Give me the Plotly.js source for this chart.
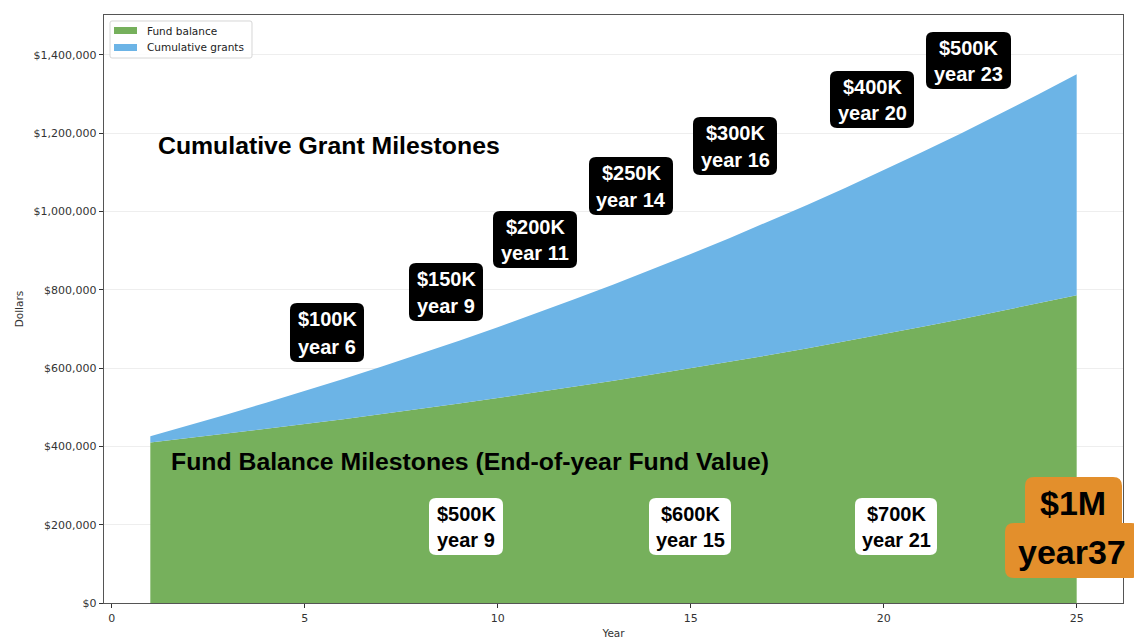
<!DOCTYPE html>
<html>
<head>
<meta charset="utf-8">
<script src="https://cdn.plot.ly/plotly-3.0.1.min.js"></script>
<style>html,body{margin:0;padding:0;background:#fff;}#chart{width:1134px;height:643px;}</style>
</head>
<body>
<div id="chart"></div>
<script>
// ---- data ----
const years = [1,2,3,4,5,6,7,8,9,10,11,12,13,14,15,16,17,18,19,20,21,22,23,24,25];
const fundBalance = [410000,421300,432900,444800,457000,469600,482500,495700,509400,523400,537800,552600,567800,583400,599400,615900,632800,650200,668100,686500,705400,724800,744700,765200,786200];
const cumulativeGrants = [16000,32400,49300,66700,84500,102800,121600,140900,160800,181200,202200,223800,245900,268700,292000,316100,340700,366100,392200,418900,446400,474700,503800,533600,564300];
const seriesNames = ['Fund balance','Cumulative grants'];

const grantMilestoneLabels = ['$100K','$150K','$200K','$250K','$300K','$400K','$500K'];
const grantMilestoneYears = [6,9,11,14,16,20,23];
const fundMilestoneLabels = ['$500K','$600K','$700K'];
const fundMilestoneYears = [9,15,21];
const bigMilestoneLabel = '$1M';
const bigMilestoneYear = 37;
const yTicks = [0,200000,400000,600000,800000,1000000,1200000,1400000];
const yTickText = ['$0','$200,000','$400,000','$600,000','$800,000','$1,000,000','$1,200,000','$1,400,000'];
const xTicks = [0,5,10,15,20,25];

// ---- layout helpers: pixel geometry of the reference ----
const L = 104, R = 1123, T = 15, B = 603;
const px = x => (x - L) / (R - L);
const py = y => (B - y) / (B - T);
function rr(x0, y0, x1, y1, r) {
  const X = v => px(v).toFixed(5), Y = v => py(v).toFixed(5);
  return 'M' + X(x0 + r) + ',' + Y(y0) + ' L' + X(x1 - r) + ',' + Y(y0) +
    ' Q' + X(x1) + ',' + Y(y0) + ' ' + X(x1) + ',' + Y(y0 + r) +
    ' L' + X(x1) + ',' + Y(y1 - r) +
    ' Q' + X(x1) + ',' + Y(y1) + ' ' + X(x1 - r) + ',' + Y(y1) +
    ' L' + X(x0 + r) + ',' + Y(y1) +
    ' Q' + X(x0) + ',' + Y(y1) + ' ' + X(x0) + ',' + Y(y1 - r) +
    ' L' + X(x0) + ',' + Y(y0 + r) +
    ' Q' + X(x0) + ',' + Y(y0) + ' ' + X(x0 + r) + ',' + Y(y0) + ' Z';
}

// box rectangles [x0, x1, y0, y1] in pixels
const grantBoxes = [[290,364,303,362],[409,483,263,321],[493,577,211,268],[589,673,157,215],[693,777,117,175],[830,914,71,128],[926,1011,32,89]];
const fundBoxes = [[429,503,498,555],[649,731,498,555],[855,937,498,555]];

const FAM = 'Liberation Sans, Arial, sans-serif';
const shapes = [];
const annotations = [];
function addBox(b, line1, line2, bg, fg) {
  shapes.push({type:'path', xref:'paper', yref:'paper', path:rr(b[0], b[2], b[1], b[3], 7),
    fillcolor:bg, line:{width:0}, layer:'above'});
  const cx = px((b[0] + b[1]) / 2);
  annotations.push({xref:'paper', yref:'paper', x:cx, y:py(b[2] + 16), xanchor:'center', yanchor:'middle',
    showarrow:false, text:'<b>' + line1 + '</b>', font:{family:FAM, size:20, color:fg}});
  annotations.push({xref:'paper', yref:'paper', x:cx, y:py(b[3] - 15), xanchor:'center', yanchor:'middle',
    showarrow:false, text:'<b>' + line2 + '</b>', font:{family:FAM, size:20, color:fg}});
}
grantMilestoneLabels.forEach((lab, i) => addBox(grantBoxes[i], lab, 'year ' + grantMilestoneYears[i], '#000', '#fff'));
fundMilestoneLabels.forEach((lab, i) => addBox(fundBoxes[i], lab, 'year ' + fundMilestoneYears[i], '#fff', '#000'));

// big $1M milestone (two merged orange boxes)
const ORANGE = '#E38F2C';
shapes.push({type:'path', xref:'paper', yref:'paper', path:rr(1025, 477, 1122, 532, 9), fillcolor:ORANGE, line:{width:0}, layer:'above'});
shapes.push({type:'path', xref:'paper', yref:'paper', path:rr(1005, 523, 1140, 578, 9), fillcolor:ORANGE, line:{width:0}, layer:'above'});
annotations.push({xref:'paper', yref:'paper', x:px(1073), y:py(503), xanchor:'center', yanchor:'middle', showarrow:false,
  text:'<b>' + bigMilestoneLabel + '</b>', font:{family:FAM, size:34, color:'#000'}});
annotations.push({xref:'paper', yref:'paper', x:px(1072), y:py(552), xanchor:'center', yanchor:'middle', showarrow:false,
  text:'<b>year' + bigMilestoneYear + '</b>', font:{family:FAM, size:34, color:'#000'}});

// section titles
annotations.push({xref:'paper', yref:'paper', x:px(156), y:py(146), xanchor:'left', yanchor:'middle', showarrow:false,
  text:'<b>Cumulative Grant Milestones</b>', font:{family:FAM, size:24.8, color:'#000'}});
annotations.push({xref:'paper', yref:'paper', x:px(169), y:py(461), xanchor:'left', yanchor:'middle', showarrow:false,
  text:'<b>Fund Balance Milestones (End-of-year Fund Value)</b>', font:{family:FAM, size:24.8, color:'#000'}});

const GREEN = '#76B05C', BLUE = '#6CB4E6';
// legend (matplotlib style box, upper left)
shapes.push({type:'path', xref:'paper', yref:'paper', path:rr(110, 21, 252, 58, 2), fillcolor:'rgba(255,255,255,0.85)', line:{width:1, color:'#d6d6d6'}, layer:'above'});
shapes.push({type:'rect', xref:'paper', yref:'paper', x0:px(114), x1:px(137), y0:py(27), y1:py(34), fillcolor:GREEN, line:{width:0}, layer:'above'});
shapes.push({type:'rect', xref:'paper', yref:'paper', x0:px(114), x1:px(137), y0:py(44), y1:py(51), fillcolor:BLUE, line:{width:0}, layer:'above'});
[[31, seriesNames[0]], [47, seriesNames[1]]].forEach(([y, name]) => {
  annotations.push({xref:'paper', yref:'paper', x:px(145), y:py(y), xanchor:'left', yanchor:'middle', showarrow:false,
    text:name, font:{family:'DejaVu Sans, sans-serif', size:10.5, color:'#222'}});
});

const traces = [
  {x:years, y:fundBalance, name:seriesNames[0], type:'scatter', mode:'lines', stackgroup:'one',
   line:{width:0, color:GREEN}, fillcolor:GREEN, hoverinfo:'skip'},
  {x:years, y:cumulativeGrants, name:seriesNames[1], type:'scatter', mode:'lines', stackgroup:'one',
   line:{width:0, color:BLUE}, fillcolor:BLUE, hoverinfo:'skip'}
];

const tickFont = {family:'DejaVu Sans, sans-serif', size:11, color:'#333'};
const layout = {
  width:1134, height:643,
  margin:{l:L, r:1134 - R, t:T, b:643 - B, pad:0},
  paper_bgcolor:'#fff', plot_bgcolor:'#fff',
  showlegend:false,
  xaxis:{range:[-0.2,26.2], tickvals:xTicks, ticks:'outside', ticklen:4, tickcolor:'#333',
    showgrid:false, zeroline:false, showline:true, linecolor:'#555', linewidth:1.3, mirror:true,
    tickfont:tickFont, title:{text:'Year', font:{family:'DejaVu Sans, sans-serif', size:10.5, color:'#333'}, standoff:6}},
  yaxis:{range:[0,1502000], tickvals:yTicks, ticktext:yTickText, ticks:'outside', ticklen:4, tickcolor:'#333',
    showgrid:true, gridcolor:'#eeeeee', gridwidth:1, zeroline:false, showline:true, linecolor:'#555', linewidth:1.3, mirror:true,
    tickfont:tickFont, title:{text:'Dollars', font:{family:'DejaVu Sans, sans-serif', size:10.5, color:'#333'}, standoff:7}},
  shapes:shapes,
  annotations:annotations
};

Plotly.newPlot('chart', traces, layout, {displayModeBar:false, staticPlot:true});
</script>
</body>
</html>
